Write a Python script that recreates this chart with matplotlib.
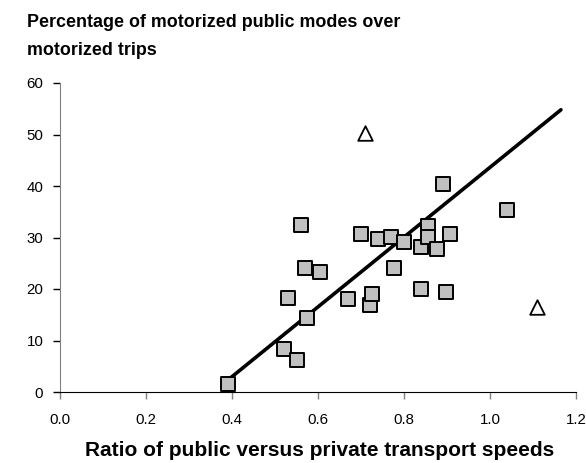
import matplotlib
matplotlib.use("Agg")
import matplotlib.pyplot as plt

plt.rcParams['font.family'] = ['Liberation Sans', 'DejaVu Sans']

# Squares: cities
sq_x = [0.39, 0.52, 0.55, 0.53, 0.56, 0.57, 0.575, 0.605, 0.67, 0.70, 0.72, 0.725,
        0.74, 0.77, 0.777, 0.80, 0.84, 0.84, 0.856, 0.856, 0.877, 0.89, 0.898, 0.907, 1.04]
sq_y = [1.6, 8.3, 6.2, 18.3, 32.5, 24.1, 14.4, 23.3, 18.0, 30.7, 16.9, 19.0,
        29.7, 30.1, 24.0, 29.1, 20.0, 28.2, 32.2, 30.1, 27.8, 40.4, 19.4, 30.7, 35.3]
# Triangles: outliers
tri_x = [0.709, 1.109]
tri_y = [50.3, 16.5]
# Trend line endpoints
fit_x = [0.39, 1.165]
fit_y = [2.3, 54.8]

xticks = [0.0, 0.2, 0.4, 0.6, 0.8, 1.0, 1.2]
xtick_labels = ["0.0", "0.2", "0.4", "0.6", "0.8", "1.0", "1.2"]
yticks = [0, 10, 20, 30, 40, 50, 60]
title_lines = ["Percentage of motorized public modes over", "motorized trips"]

fig = plt.figure(figsize=(5.86, 4.63), dpi=100)
ax = fig.add_axes([60/586, 1-392/463, (576-60)/586, (392-83)/463])

ax.plot(fit_x, fit_y, color='black', lw=2.6, solid_capstyle='round', zorder=2)
ax.scatter(sq_x, sq_y, marker='s', s=95, facecolor='#c0c0c0', edgecolor='black',
           linewidths=1.4, zorder=3)
ax.scatter(tri_x, tri_y, marker='^', s=110, facecolor='white', edgecolor='black',
           linewidths=1.3, zorder=3)

ax.set_xlim(0, 1.2)
ax.set_ylim(0, 60)
ax.set_xticks(xticks)
ax.set_xticklabels(xtick_labels)
ax.set_yticks(yticks)
ax.spines['top'].set_visible(False)
ax.spines['right'].set_visible(False)
ax.spines['left'].set_color('#808080')
ax.spines['bottom'].set_color('black')
ax.tick_params(axis='both', direction='out', length=5, width=1, labelsize=10.8)
ax.tick_params(axis='x', pad=10, colors='#808080', labelcolor='black')
ax.tick_params(axis='y', pad=7, colors='black')

for line, base in zip(title_lines, [27, 55]):
    fig.text(27/586, 1-base/463, line, ha='left', va='baseline',
             fontsize=12.9, fontweight='bold')
fig.text(320/586, 1-451/463, "Ratio of public versus private transport speeds",
         ha='center', va='center', fontsize=15, fontweight='bold')

fig.savefig("out.png", dpi=100)
